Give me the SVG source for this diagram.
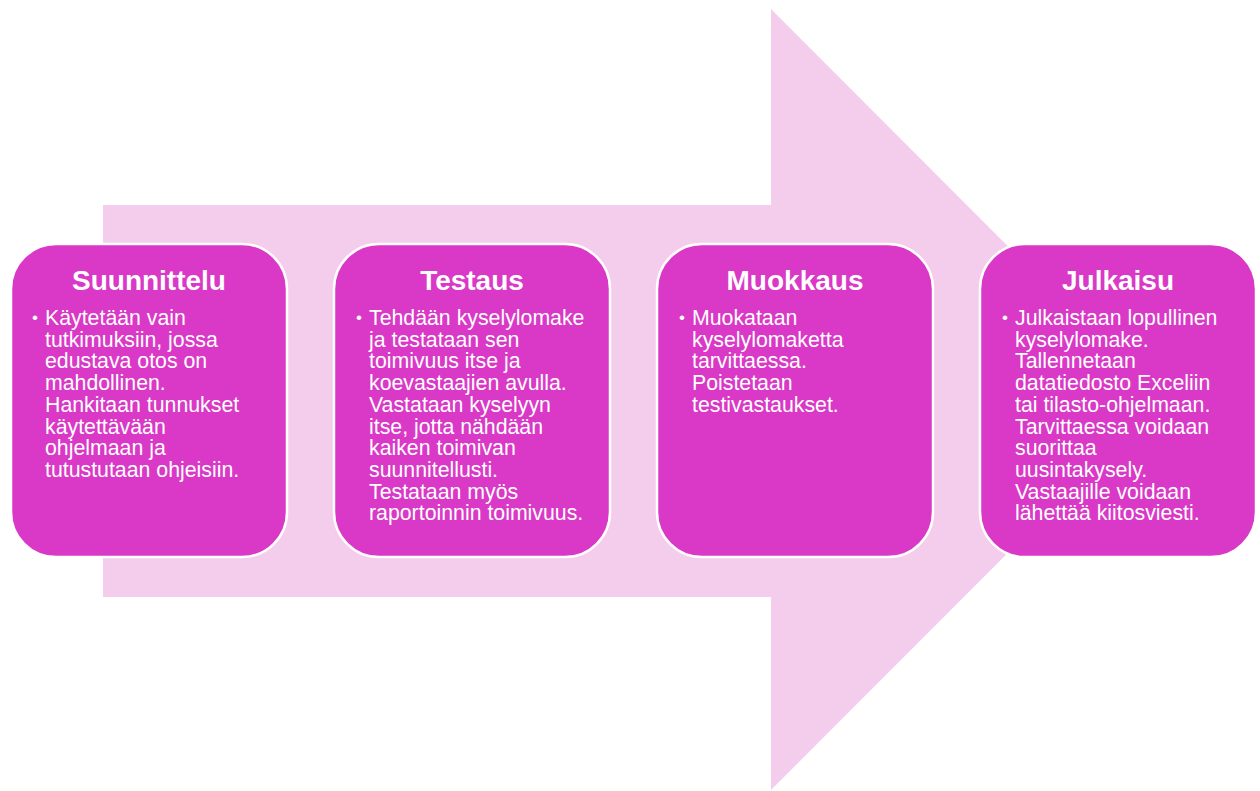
<svg xmlns="http://www.w3.org/2000/svg" width="1260" height="791" viewBox="0 0 1260 791">
<style>
.box{fill:#D939C6;stroke:#FFFFFF;stroke-width:2.5}
.title{font-family:"Liberation Sans",Arial,sans-serif;font-weight:bold;font-size:28px;fill:#FFFFFF;text-anchor:middle}
.body{font-family:"Liberation Sans",Arial,sans-serif;font-size:21.3px;fill:#FFFFFF}
.bul{font-family:"Liberation Sans",Arial,sans-serif;font-size:17px;fill:#FFFFFF}
</style>
<rect width="1260" height="791" fill="#FFFFFF"/>
<polygon id="arrow" points="103,205 771,205 771,9 1161,399.5 771,790 771,597 103,597" fill="#F4CDED"/>
<g id="connectors"></g>
<g id="n1">
<rect class="box" x="11" y="244" width="276" height="313" rx="45" ry="45"/>
<text class="title" x="149" y="290">Suunnittelu</text>
<text class="bul" x="32" y="323">•</text>
<text class="body" x="45" y="325"><tspan x="45">Käytetään vain</tspan><tspan x="45" dy="21.7">tutkimuksiin, jossa</tspan><tspan x="45" dy="21.7">edustava otos on</tspan><tspan x="45" dy="21.7">mahdollinen.</tspan><tspan x="45" dy="21.7">Hankitaan tunnukset</tspan><tspan x="45" dy="21.7">käytettävään</tspan><tspan x="45" dy="21.7">ohjelmaan ja</tspan><tspan x="45" dy="21.7">tutustutaan ohjeisiin.</tspan></text>
</g>
<g id="n2">
<rect class="box" x="334" y="244" width="276" height="313" rx="45" ry="45"/>
<text class="title" x="472" y="290">Testaus</text>
<text class="bul" x="356" y="323">•</text>
<text class="body" x="369" y="325"><tspan x="369">Tehdään kyselylomake</tspan><tspan x="369" dy="21.7">ja testataan sen</tspan><tspan x="369" dy="21.7">toimivuus itse ja</tspan><tspan x="369" dy="21.7">koevastaajien avulla.</tspan><tspan x="369" dy="21.7">Vastataan kyselyyn</tspan><tspan x="369" dy="21.7">itse, jotta nähdään</tspan><tspan x="369" dy="21.7">kaiken toimivan</tspan><tspan x="369" dy="21.7">suunnitellusti.</tspan><tspan x="369" dy="21.7">Testataan myös</tspan><tspan x="369" dy="21.7">raportoinnin toimivuus.</tspan></text>
</g>
<g id="n3">
<rect class="box" x="657" y="244" width="276" height="313" rx="45" ry="45"/>
<text class="title" x="795" y="290">Muokkaus</text>
<text class="bul" x="679" y="323">•</text>
<text class="body" x="692" y="325"><tspan x="692">Muokataan</tspan><tspan x="692" dy="21.7">kyselylomaketta</tspan><tspan x="692" dy="21.7">tarvittaessa.</tspan><tspan x="692" dy="21.7">Poistetaan</tspan><tspan x="692" dy="21.7">testivastaukset.</tspan></text>
</g>
<g id="n4">
<rect class="box" x="980" y="244" width="276" height="313" rx="45" ry="45"/>
<text class="title" x="1118" y="290">Julkaisu</text>
<text class="bul" x="1002" y="323">•</text>
<text class="body" x="1015" y="325"><tspan x="1015">Julkaistaan lopullinen</tspan><tspan x="1015" dy="21.7">kyselylomake.</tspan><tspan x="1015" dy="21.7">Tallennetaan</tspan><tspan x="1015" dy="21.7">datatiedosto Exceliin</tspan><tspan x="1015" dy="21.7">tai tilasto-ohjelmaan.</tspan><tspan x="1015" dy="21.7">Tarvittaessa voidaan</tspan><tspan x="1015" dy="21.7">suorittaa</tspan><tspan x="1015" dy="21.7">uusintakysely.</tspan><tspan x="1015" dy="21.7">Vastaajille voidaan</tspan><tspan x="1015" dy="21.7">lähettää kiitosviesti.</tspan></text>
</g>
</svg>
